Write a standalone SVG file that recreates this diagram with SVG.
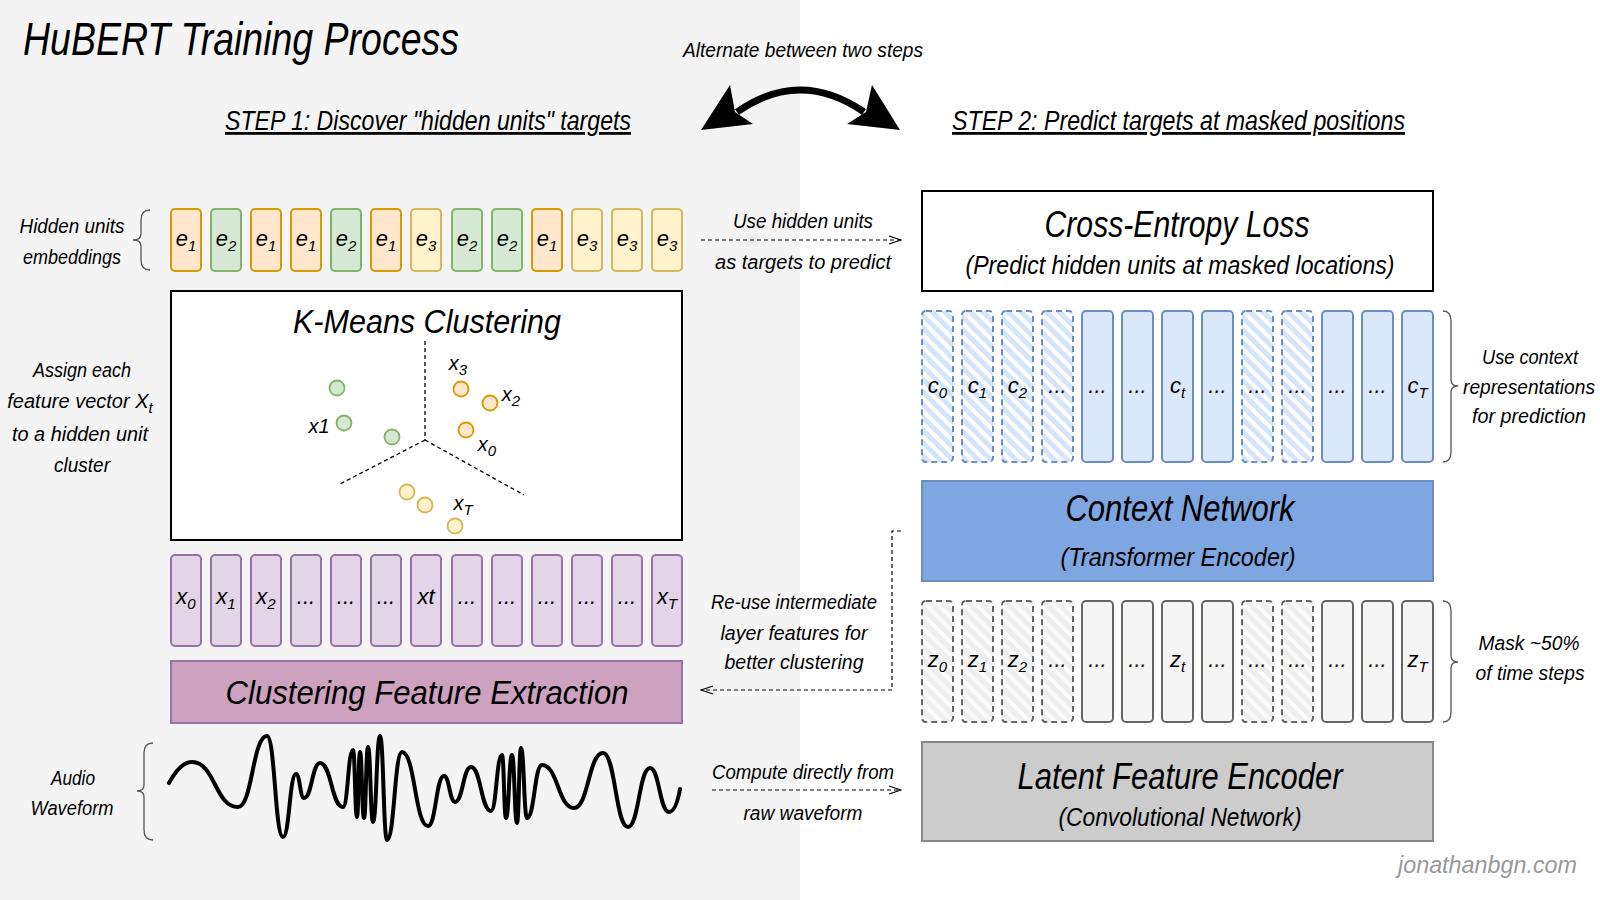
<svg xmlns="http://www.w3.org/2000/svg" width="1600" height="900" viewBox="0 0 1600 900">
<style>
.t{font-family:"Liberation Sans Narrow","Liberation Sans",sans-serif;font-style:italic;fill:#000}
.c{text-anchor:middle}
.s20{font-size:20px}
.s22{font-size:22px}
.s26{font-size:26px}
.s36{font-size:36px}
.sub{font-size:15px}
.bx{stroke-width:2}
.eo{fill:#ffe6cc;stroke:#d79b00}
.eg{fill:#d5e8d4;stroke:#82b366}
.ey{fill:#fff2cc;stroke:#d6b656}
.pu{fill:#e1d5e7;stroke:#9673a6}
.cb{fill:#dae8fc;stroke:#6c8ebf}
.cm{fill:url(#hatchB);stroke:#6c8ebf;stroke-dasharray:6 4}
.zb{fill:#f5f5f5;stroke:#666666}
.zm{fill:url(#hatchG);stroke:#666666;stroke-dasharray:6 4}
.dash{fill:none;stroke:#000;stroke-width:1.3;stroke-dasharray:4 3}
.brace{fill:none;stroke:#555;stroke-width:1.3}
.conn{fill:none;stroke:#000;stroke-width:1.2;stroke-dasharray:4 3}
</style>
<defs>
<pattern id="hatchB" patternUnits="userSpaceOnUse" width="9" height="9" patternTransform="rotate(45)">
<rect width="9" height="9" fill="#ffffff"/>
<rect width="9" height="5" fill="#d4e4fb"/>
</pattern>
<pattern id="hatchG" patternUnits="userSpaceOnUse" width="9" height="9" patternTransform="rotate(45)">
<rect width="9" height="9" fill="#fbfbfb"/>
<rect width="9" height="5" fill="#eeeeee"/>
</pattern>
<marker id="open" markerWidth="14" markerHeight="10" refX="13" refY="5" orient="auto" markerUnits="userSpaceOnUse">
<path d="M1,1 L13,5 L1,9" fill="none" stroke="#000" stroke-width="1.2"/>
</marker>
</defs>

<rect x="0" y="0" width="1600" height="900" fill="#ffffff"/>
<rect x="0" y="0" width="800" height="900" fill="#f4f4f4"/>

<g id="titles">
<text class="t" x="23" y="55" font-size="46" textLength="436" lengthAdjust="spacingAndGlyphs">HuBERT Training Process</text>
<text class="t s20" x="683" y="57" textLength="240" lengthAdjust="spacingAndGlyphs">Alternate between two steps</text>
<text class="t" x="225" y="130" font-size="28" text-decoration="underline" textLength="406" lengthAdjust="spacingAndGlyphs">STEP 1: Discover "hidden units" targets</text>
<text class="t" x="952" y="130" font-size="28" text-decoration="underline" textLength="453" lengthAdjust="spacingAndGlyphs">STEP 2: Predict targets at masked positions</text>
</g>

<g id="alternate-arrow">
<path d="M737,112 Q800,68 864,112" fill="none" stroke="#000" stroke-width="7"/>
<polygon points="701,130 730,85 735,112 753,124" fill="#000"/>
<polygon points="900,130 872,85 866,112 847,124" fill="#000"/>
</g>

<g id="hidden-units-label">
<text class="t s20 c" x="72" y="233" textLength="105" lengthAdjust="spacingAndGlyphs">Hidden units</text>
<text class="t s20 c" x="72" y="264" textLength="98" lengthAdjust="spacingAndGlyphs">embeddings</text>
<path class="brace" d="M150,210 Q141,210 141,220 L141,234 Q141,240 133,240 Q141,240 141,246 L141,260 Q141,270 150,270"/>
</g>

<g id="hidden-units">
<g class="bx">
<rect class="eo" x="171" y="209" width="30" height="62" rx="4"/>
<rect class="eg" x="211" y="209" width="30" height="62" rx="4"/>
<rect class="eo" x="251" y="209" width="30" height="62" rx="4"/>
<rect class="eo" x="291" y="209" width="30" height="62" rx="4"/>
<rect class="eg" x="331" y="209" width="30" height="62" rx="4"/>
<rect class="eo" x="371" y="209" width="30" height="62" rx="4"/>
<rect class="ey" x="411" y="209" width="30" height="62" rx="4"/>
<rect class="eg" x="452" y="209" width="30" height="62" rx="4"/>
<rect class="eg" x="492" y="209" width="30" height="62" rx="4"/>
<rect class="eo" x="532" y="209" width="30" height="62" rx="4"/>
<rect class="ey" x="572" y="209" width="30" height="62" rx="4"/>
<rect class="ey" x="612" y="209" width="30" height="62" rx="4"/>
<rect class="ey" x="652" y="209" width="30" height="62" rx="4"/>
</g>
<g class="t s22 c">
<text x="186" y="246">e<tspan class="sub" dy="5">1</tspan></text>
<text x="226" y="246">e<tspan class="sub" dy="5">2</tspan></text>
<text x="266" y="246">e<tspan class="sub" dy="5">1</tspan></text>
<text x="306" y="246">e<tspan class="sub" dy="5">1</tspan></text>
<text x="346" y="246">e<tspan class="sub" dy="5">2</tspan></text>
<text x="386" y="246">e<tspan class="sub" dy="5">1</tspan></text>
<text x="426" y="246">e<tspan class="sub" dy="5">3</tspan></text>
<text x="467" y="246">e<tspan class="sub" dy="5">2</tspan></text>
<text x="507" y="246">e<tspan class="sub" dy="5">2</tspan></text>
<text x="547" y="246">e<tspan class="sub" dy="5">1</tspan></text>
<text x="587" y="246">e<tspan class="sub" dy="5">3</tspan></text>
<text x="627" y="246">e<tspan class="sub" dy="5">3</tspan></text>
<text x="667" y="246">e<tspan class="sub" dy="5">3</tspan></text>
</g>
</g>

<g id="assign-label">
<text class="t s20 c" x="82" y="377" textLength="98" lengthAdjust="spacingAndGlyphs">Assign each</text>
<text class="t s20 c" x="80" y="408">feature vector X<tspan class="sub" dy="5">t</tspan></text>
<text class="t s20 c" x="80" y="441" textLength="136" lengthAdjust="spacingAndGlyphs">to a hidden unit</text>
<text class="t s20 c" x="82" y="472" textLength="56" lengthAdjust="spacingAndGlyphs">cluster</text>
</g>

<g id="kmeans">
<rect x="171" y="291" width="511" height="249" fill="#ffffff" stroke="#000" stroke-width="2"/>
<text class="t c" x="427" y="333" font-size="34" textLength="268" lengthAdjust="spacingAndGlyphs">K-Means Clustering</text>
<path class="dash" d="M425,341 L425,440 M425,440 L340,484 M425,440 L524,495"/>
<g stroke-width="1.8">
<circle cx="337" cy="388" r="7.5" fill="#d5e8d4" stroke="#82b366"/>
<circle cx="344" cy="423" r="7.5" fill="#d5e8d4" stroke="#82b366"/>
<circle cx="392" cy="437" r="7.5" fill="#d5e8d4" stroke="#82b366"/>
<circle cx="461" cy="389" r="7.5" fill="#ffe6cc" stroke="#d79b00"/>
<circle cx="490" cy="403" r="7.5" fill="#ffe6cc" stroke="#d79b00"/>
<circle cx="466" cy="430" r="7.5" fill="#ffe6cc" stroke="#d79b00"/>
<circle cx="407" cy="492" r="7.5" fill="#fff2cc" stroke="#d6b656"/>
<circle cx="425" cy="505" r="7.5" fill="#fff2cc" stroke="#d6b656"/>
<circle cx="455" cy="526" r="7.5" fill="#fff2cc" stroke="#d6b656"/>
</g>
<g class="t s20 c">
<text x="319" y="433">x1</text>
<text x="458" y="370">x<tspan class="sub" dy="5">3</tspan></text>
<text x="511" y="401">x<tspan class="sub" dy="5">2</tspan></text>
<text x="487" y="451">x<tspan class="sub" dy="5">0</tspan></text>
<text x="463" y="510">x<tspan class="sub" dy="5">T</tspan></text>
</g>
</g>

<g id="clustering-features">
<g class="bx">
<rect class="pu" x="171" y="555" width="30" height="91" rx="4"/>
<rect class="pu" x="211" y="555" width="30" height="91" rx="4"/>
<rect class="pu" x="251" y="555" width="30" height="91" rx="4"/>
<rect class="pu" x="291" y="555" width="30" height="91" rx="4"/>
<rect class="pu" x="331" y="555" width="30" height="91" rx="4"/>
<rect class="pu" x="371" y="555" width="30" height="91" rx="4"/>
<rect class="pu" x="411" y="555" width="30" height="91" rx="4"/>
<rect class="pu" x="452" y="555" width="30" height="91" rx="4"/>
<rect class="pu" x="492" y="555" width="30" height="91" rx="4"/>
<rect class="pu" x="532" y="555" width="30" height="91" rx="4"/>
<rect class="pu" x="572" y="555" width="30" height="91" rx="4"/>
<rect class="pu" x="612" y="555" width="30" height="91" rx="4"/>
<rect class="pu" x="652" y="555" width="30" height="91" rx="4"/>
</g>
<g class="t s22 c">
<text x="186" y="604">x<tspan class="sub" dy="5">0</tspan></text>
<text x="226" y="604">x<tspan class="sub" dy="5">1</tspan></text>
<text x="266" y="604">x<tspan class="sub" dy="5">2</tspan></text>
<text x="306" y="604">...</text>
<text x="346" y="604">...</text>
<text x="386" y="604">...</text>
<text x="426" y="604">xt</text>
<text x="467" y="604">...</text>
<text x="507" y="604">...</text>
<text x="547" y="604">...</text>
<text x="587" y="604">...</text>
<text x="627" y="604">...</text>
<text x="667" y="604">x<tspan class="sub" dy="5">T</tspan></text>
</g>
</g>

<g id="clustering-feature-extraction">
<rect x="171" y="661" width="511" height="62" fill="#cda2be" stroke="#9673a6" stroke-width="2"/>
<text class="t c" x="427" y="704" font-size="34" textLength="403" lengthAdjust="spacingAndGlyphs">Clustering Feature Extraction</text>
</g>

<g id="audio-waveform">
<text class="t s20 c" x="73" y="785" textLength="44" lengthAdjust="spacingAndGlyphs">Audio</text>
<text class="t s20 c" x="72" y="815" textLength="83" lengthAdjust="spacingAndGlyphs">Waveform</text>
<path class="brace" d="M153,743 Q144,743 144,753 L144,785 Q144,791 137,791 Q144,791 144,797 L144,830 Q144,840 153,840"/>
<path fill="none" stroke="#000" stroke-width="4" stroke-linejoin="round" stroke-linecap="round" d="M169,783 C176,770 184,762 192,762 C215,762 215,807 238,807 C252.5,807 252.5,736 267,736 C275,736 275,837 283,837 C289.5,837 289.5,774 296,774 C300,774 300,798 304,798 C312,798 312,763 320,763 C331.5,763 331.5,807 343,807 C348,807 348,750 353,750 C355,750 355,817 357,817 C358.5,817 358.5,752 360,752 C362,752 362,818 364,818 C366,818 366,747 368,747 C370.5,747 370.5,822 373,822 C376.5,822 376.5,736 380,736 C383.5,736 383.5,840 387,840 C394.5,840 394.5,752 402,752 C415,752 415,826 428,826 C436,826 436,776 444,776 C449.5,776 449.5,802 455,802 C463,802 463,767 471,767 C481,767 481,811 491,811 C496.5,811 496.5,755 502,755 C504,755 504,818 506,818 C509,818 509,755 512,755 C514.5,755 514.5,823 517,823 C519,823 519,748 521,748 C524,748 524,818 527,818 C534.5,818 534.5,765 542,765 C558,765 558,808 574,808 C588.5,808 588.5,753 603,753 C615.5,753 615.5,827 628,827 C639,827 639,768 650,768 C659.5,768 659.5,812 669,812 C675,812 678,800 680,789"/>
</g>

<g id="connectors">
<path class="conn" d="M701,240 L901,240" marker-end="url(#open)"/>
<path class="conn" d="M901,531 L892,531 L892,690 L701,690" marker-end="url(#open)"/>
<path class="conn" d="M712,790 L901,790" marker-end="url(#open)"/>
<text class="t s20 c" x="803" y="228" textLength="140" lengthAdjust="spacingAndGlyphs">Use hidden units</text>
<text class="t s20 c" x="803" y="269" textLength="176" lengthAdjust="spacingAndGlyphs">as targets to predict</text>
<text class="t s20 c" x="794" y="609" textLength="166" lengthAdjust="spacingAndGlyphs">Re-use intermediate</text>
<text class="t s20 c" x="794" y="640" textLength="147" lengthAdjust="spacingAndGlyphs">layer features for</text>
<text class="t s20 c" x="794" y="669" textLength="139" lengthAdjust="spacingAndGlyphs">better clustering</text>
<text class="t s20 c" x="803" y="779" textLength="182" lengthAdjust="spacingAndGlyphs">Compute directly from</text>
<text class="t s20 c" x="803" y="820" textLength="119" lengthAdjust="spacingAndGlyphs">raw waveform</text>
</g>

<g id="cross-entropy-loss">
<rect x="922" y="191" width="511" height="100" fill="#ffffff" stroke="#000" stroke-width="2"/>
<text class="t s36 c" x="1177" y="237" textLength="265" lengthAdjust="spacingAndGlyphs">Cross-Entropy Loss</text>
<text class="t s26 c" x="1180" y="274" textLength="429" lengthAdjust="spacingAndGlyphs">(Predict hidden units at masked locations)</text>
</g>

<g id="context-representations">
<g class="bx">
<rect class="cm" x="922" y="311" width="31" height="151" rx="4"/>
<rect class="cm" x="962" y="311" width="31" height="151" rx="4"/>
<rect class="cm" x="1002" y="311" width="31" height="151" rx="4"/>
<rect class="cm" x="1042" y="311" width="31" height="151" rx="4"/>
<rect class="cb" x="1082" y="311" width="31" height="151" rx="4"/>
<rect class="cb" x="1122" y="311" width="31" height="151" rx="4"/>
<rect class="cb" x="1162" y="311" width="31" height="151" rx="4"/>
<rect class="cb" x="1202" y="311" width="31" height="151" rx="4"/>
<rect class="cm" x="1242" y="311" width="31" height="151" rx="4"/>
<rect class="cm" x="1282" y="311" width="31" height="151" rx="4"/>
<rect class="cb" x="1322" y="311" width="31" height="151" rx="4"/>
<rect class="cb" x="1362" y="311" width="31" height="151" rx="4"/>
<rect class="cb" x="1402" y="311" width="31" height="151" rx="4"/>
</g>
<g class="t s22 c">
<text x="937.5" y="393">c<tspan class="sub" dy="5">0</tspan></text>
<text x="977.5" y="393">c<tspan class="sub" dy="5">1</tspan></text>
<text x="1017.5" y="393">c<tspan class="sub" dy="5">2</tspan></text>
<text x="1057.5" y="393">...</text>
<text x="1097.5" y="393">...</text>
<text x="1137.5" y="393">...</text>
<text x="1177.5" y="393">c<tspan class="sub" dy="5">t</tspan></text>
<text x="1217.5" y="393">...</text>
<text x="1257.5" y="393">...</text>
<text x="1297.5" y="393">...</text>
<text x="1337.5" y="393">...</text>
<text x="1377.5" y="393">...</text>
<text x="1417.5" y="393">c<tspan class="sub" dy="5">T</tspan></text>
</g>
<path class="brace" d="M1443,311 Q1451,311 1451,321 L1451,380 Q1451,386 1458,386 Q1451,386 1451,392 L1451,452 Q1451,462 1443,462"/>
<text class="t s20 c" x="1530" y="364" textLength="96" lengthAdjust="spacingAndGlyphs">Use context</text>
<text class="t s20 c" x="1529" y="394" textLength="132" lengthAdjust="spacingAndGlyphs">representations</text>
<text class="t s20 c" x="1529" y="423" textLength="114" lengthAdjust="spacingAndGlyphs">for prediction</text>
</g>

<g id="context-network">
<rect x="922" y="481" width="511" height="100" fill="#7ea6e0" stroke="#6c8ebf" stroke-width="2"/>
<text class="t s36 c" x="1180" y="521" textLength="229" lengthAdjust="spacingAndGlyphs">Context Network</text>
<text class="t s26 c" x="1178" y="566" textLength="235" lengthAdjust="spacingAndGlyphs">(Transformer Encoder)</text>
</g>

<g id="latent-representations">
<g class="bx">
<rect class="zm" x="922" y="601" width="31" height="121" rx="4"/>
<rect class="zm" x="962" y="601" width="31" height="121" rx="4"/>
<rect class="zm" x="1002" y="601" width="31" height="121" rx="4"/>
<rect class="zm" x="1042" y="601" width="31" height="121" rx="4"/>
<rect class="zb" x="1082" y="601" width="31" height="121" rx="4"/>
<rect class="zb" x="1122" y="601" width="31" height="121" rx="4"/>
<rect class="zb" x="1162" y="601" width="31" height="121" rx="4"/>
<rect class="zb" x="1202" y="601" width="31" height="121" rx="4"/>
<rect class="zm" x="1242" y="601" width="31" height="121" rx="4"/>
<rect class="zm" x="1282" y="601" width="31" height="121" rx="4"/>
<rect class="zb" x="1322" y="601" width="31" height="121" rx="4"/>
<rect class="zb" x="1362" y="601" width="31" height="121" rx="4"/>
<rect class="zb" x="1402" y="601" width="31" height="121" rx="4"/>
</g>
<g class="t s22 c">
<text x="937.5" y="667">z<tspan class="sub" dy="5">0</tspan></text>
<text x="977.5" y="667">z<tspan class="sub" dy="5">1</tspan></text>
<text x="1017.5" y="667">z<tspan class="sub" dy="5">2</tspan></text>
<text x="1057.5" y="667">...</text>
<text x="1097.5" y="667">...</text>
<text x="1137.5" y="667">...</text>
<text x="1177.5" y="667">z<tspan class="sub" dy="5">t</tspan></text>
<text x="1217.5" y="667">...</text>
<text x="1257.5" y="667">...</text>
<text x="1297.5" y="667">...</text>
<text x="1337.5" y="667">...</text>
<text x="1377.5" y="667">...</text>
<text x="1417.5" y="667">z<tspan class="sub" dy="5">T</tspan></text>
</g>
<path class="brace" d="M1443,601 Q1451,601 1451,611 L1451,656 Q1451,662 1458,662 Q1451,662 1451,668 L1451,712 Q1451,722 1443,722"/>
<text class="t s20 c" x="1529" y="650" textLength="101" lengthAdjust="spacingAndGlyphs">Mask ~50%</text>
<text class="t s20 c" x="1530" y="680" textLength="109" lengthAdjust="spacingAndGlyphs">of time steps</text>
</g>

<g id="latent-feature-encoder">
<rect x="922" y="742" width="511" height="99" fill="#cccccc" stroke="#888888" stroke-width="2"/>
<text class="t s36 c" x="1180" y="789" textLength="325" lengthAdjust="spacingAndGlyphs">Latent Feature Encoder</text>
<text class="t s26 c" x="1180" y="826" textLength="243" lengthAdjust="spacingAndGlyphs">(Convolutional Network)</text>
</g>

<g id="credit">
<text class="t" x="1398" y="873" font-size="24" style="fill:#999999" textLength="179" lengthAdjust="spacingAndGlyphs">jonathanbgn.com</text>
</g>
</svg>
